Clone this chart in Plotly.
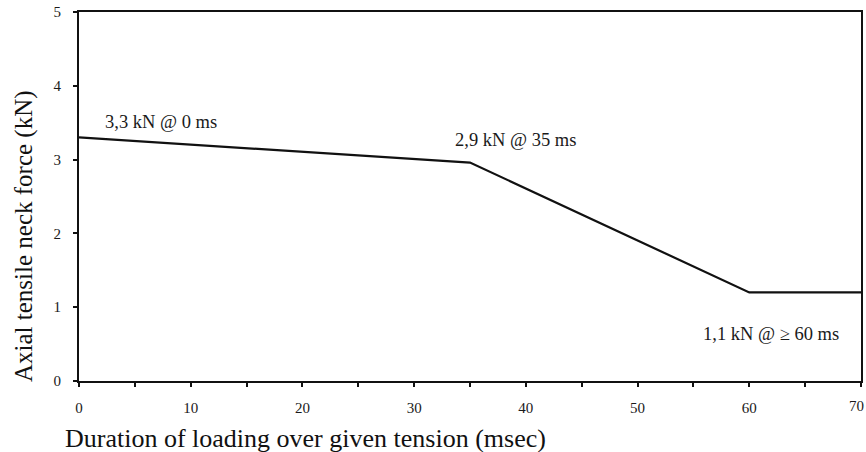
import plotly.graph_objects as go

duration_ms = [0, 35, 60, 70]
force_kn = [3.3, 2.96, 1.2, 1.2]

label_texts = ["3,3 kN @ 0 ms", "2,9 kN @ 35 ms", "1,1 kN @ ≥ 60 ms"]
label_x = [7.3, 39.1, 61.9]
label_y = [3.51, 3.27, 0.64]

x_ticks = [0, 10, 20, 30, 40, 50, 60, 70]
x_tick_text = ["0", "10", "20", "30", "40", "50", "60", ""]
y_ticks = [0, 1, 2, 3, 4, 5]

x_title = "Duration of loading over given tension (msec)"
y_title = "Axial tensile neck force (kN)"

serif = "Liberation Serif, DejaVu Serif, serif"
ink = "#1a1a1a"

fig = go.Figure()
fig.add_trace(go.Scatter(x=duration_ms, y=force_kn, mode="lines",
                         line=dict(color="#111111", width=2.2), showlegend=False,
                         hoverinfo="skip"))

for t, x, y in zip(label_texts, label_x, label_y):
    fig.add_annotation(x=x, y=y, text=t, showarrow=False,
                       font=dict(family=serif, size=18.5, color=ink))

# last x tick label, right-aligned so it stays inside the page
fig.add_annotation(x=x_ticks[-1], xref="x", y=0, yref="paper", yanchor="middle",
                   yshift=-25, text=str(x_ticks[-1]), showarrow=False, xanchor="right",
                   xshift=5, font=dict(family=serif, size=15, color=ink))

# axis titles (offset as in the source figure)
fig.add_annotation(x=-0.0205, xref="paper", y=0, yref="paper", xanchor="left",
                   yanchor="middle", yshift=-57, text=x_title, showarrow=False,
                   font=dict(family=serif, size=26, color="#111111"))
fig.add_annotation(x=-0.0703, xref="paper", y=0.393, yref="paper", xanchor="center",
                   yanchor="middle", textangle=-90, text=y_title, showarrow=False,
                   font=dict(family=serif, size=25, color="#111111"))

fig.update_layout(
    width=866, height=452,
    margin=dict(l=79, r=5, t=12, b=71),
    paper_bgcolor="white", plot_bgcolor="white",
    xaxis=dict(range=[0, 70], tickvals=x_ticks, ticktext=x_tick_text,
               showgrid=False, zeroline=False, automargin=False,
               showline=True, linecolor="#111111", linewidth=2, mirror=True,
               ticks="outside", ticklen=4, tickwidth=1.5, tickcolor="#111111",
               minor=dict(dtick=5, ticks="outside", ticklen=4, tickcolor="#111111", tickwidth=1.5),
               tickfont=dict(family=serif, size=15, color=ink),
               ticklabelstandoff=8),
    yaxis=dict(range=[0, 5], tickvals=y_ticks, showgrid=False, zeroline=False,
               automargin=False,
               showline=True, linecolor="#111111", linewidth=2, mirror=True,
               ticks="outside", ticklen=4, tickwidth=1.5, tickcolor="#111111",
               tickfont=dict(family=serif, size=15, color=ink),
               ticklabelstandoff=9),
)

fig.write_html("out.html", config={"displayModeBar": False},
               post_script="document.body.style.margin='0';document.body.style.overflow='hidden';")
